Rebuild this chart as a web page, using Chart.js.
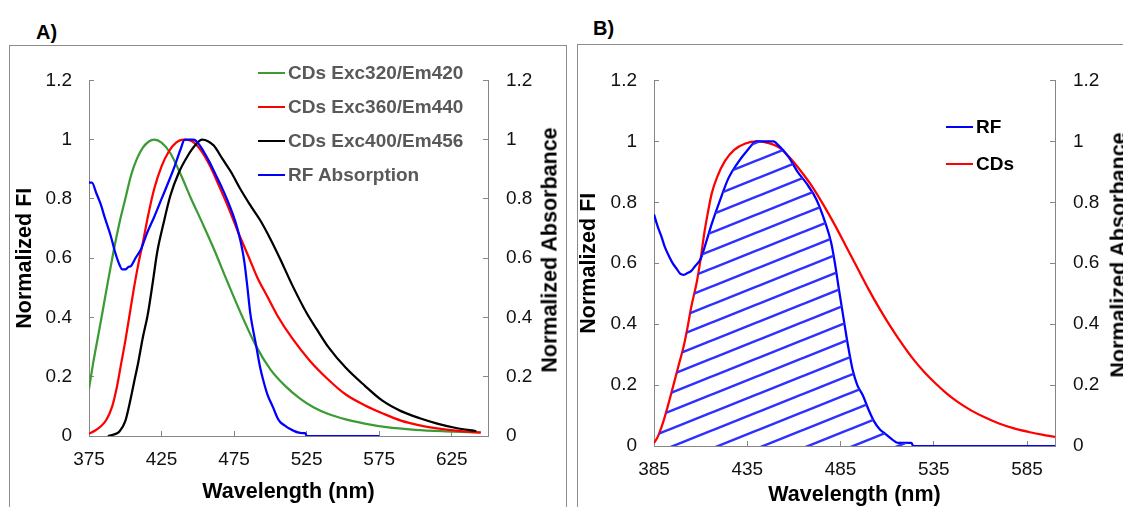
<!DOCTYPE html>
<html>
<head>
<meta charset="utf-8">
<script src="https://cdn.jsdelivr.net/npm/chart.js@4.4.1/dist/chart.umd.min.js"></script>
<style>
  body { margin: 0; width: 1123px; height: 507px; overflow: hidden; background: #fff; position: relative; font-family: "Liberation Sans", Arial, sans-serif; }
  .frame { position: absolute; border: 1px solid #8c8c8c; box-sizing: border-box; }
  .tag { position: absolute; font-weight: bold; font-size: 20px; line-height: 20px; color: #000; }
  canvas { position: absolute; }
  .legend { position: absolute; top: 0; font-weight: bold; font-size: 19px; }
  .legend .row { position: absolute; left: 0; height: 22px; white-space: nowrap; display: flex; align-items: center; }
  .legend .swatch { width: 27px; height: 2.5px; margin-right: 3px; }
  .rtitle { position: absolute; font-weight: bold; font-size: 21.5px; white-space: nowrap; color: #000; transform: translate(-50%, -50%) rotate(-90deg); }
</style>
</head>
<body>
<div class="frame" style="left:9px; top:45px; width:558px; height:500px;"></div>
<div class="frame" style="left:577px; top:44px; width:600px; height:500px;"></div>
<div class="tag" style="left:36px; top:22px;">A)</div>
<div class="tag" style="left:593px; top:18px;">B)</div>

<canvas id="chartA" width="556" height="461" style="left:10px; top:46px;"></canvas>
<canvas id="chartB" width="557" height="461" style="left:578px; top:46px;"></canvas>

<div class="legend" id="legendA" style="left:258px;"></div>
<div class="legend" id="legendB" style="left:946px;"></div>
<div class="rtitle" style="left:550px; top:250px;">Normalized Absorbance</div>
<div class="rtitle" style="left:1119px; top:255px;">Normalized Absorbance</div>

<script>
const FONT = '"Liberation Sans", Arial, sans-serif';
const AXIS = '#868686';
const TEXT = '#111';

// tick labels
const xTicksA = [375, 425, 475, 525, 575, 625];
const xTicksB = [385, 435, 485, 535, 585];
const yTicks = [0, 0.2, 0.4, 0.6, 0.8, 1, 1.2];

// A) CDs emission at three excitations, RF absorption
const em420Nm = [375, 378, 381, 384, 388, 392, 396, 400, 404, 408, 412, 416, 420, 425, 431, 438, 445, 453, 461, 470, 480, 490, 500, 510, 520, 530, 540, 552, 565, 580, 600, 620, 645];
const em420 = [0.16, 0.25, 0.33, 0.41, 0.52, 0.625, 0.72, 0.80, 0.88, 0.935, 0.972, 0.993, 1.0, 0.99, 0.955, 0.885, 0.805, 0.72, 0.632, 0.525, 0.41, 0.305, 0.225, 0.17, 0.128, 0.096, 0.074, 0.056, 0.042, 0.03, 0.021, 0.016, 0.012];

const em440Nm = [375, 379, 383, 387, 391, 394, 397, 400, 403, 406, 409, 412, 416, 420, 425, 430, 435, 440, 446, 452, 458, 465, 472, 478, 485, 491, 498, 505, 515, 527, 540, 552, 565, 578, 590, 603, 615, 628, 645];
const em440 = [0.008, 0.018, 0.032, 0.055, 0.1, 0.16, 0.24, 0.32, 0.41, 0.5, 0.58, 0.65, 0.75, 0.835, 0.91, 0.96, 0.99, 1.0, 0.995, 0.965, 0.915, 0.84, 0.76, 0.685, 0.605, 0.535, 0.47, 0.405, 0.33, 0.255, 0.19, 0.14, 0.104, 0.075, 0.052, 0.036, 0.026, 0.018, 0.011];

const em456Nm = [388, 392, 396, 400, 403, 406, 409, 412, 415.5, 419, 422, 426, 431, 437, 443, 448, 453, 457, 461, 467, 473, 479, 486, 493, 500, 507, 515, 525, 532, 540, 552, 565, 577, 590, 603, 615, 628, 642];
const em456 = [0, 0.005, 0.015, 0.05, 0.11, 0.18, 0.25, 0.33, 0.41, 0.52, 0.62, 0.71, 0.81, 0.89, 0.945, 0.98, 1.0, 0.995, 0.98, 0.935, 0.89, 0.836, 0.78, 0.728, 0.665, 0.595, 0.51, 0.415, 0.36, 0.3, 0.23, 0.17, 0.12, 0.084, 0.06, 0.042, 0.027, 0.016];

const rfNmA = [375, 377, 380, 383, 386, 390, 393, 396, 398, 400, 402, 404, 407, 411, 415, 420, 425, 429, 434, 438, 441, 447, 450, 454, 458, 462, 466, 470, 474, 477, 480, 482, 484, 486, 488, 490, 493, 495, 498, 502, 505, 507, 510, 513, 516, 519, 522, 524, 525, 575];
const rfAbsA = [0.855, 0.855, 0.82, 0.783, 0.735, 0.675, 0.62, 0.578, 0.562, 0.562, 0.57, 0.574, 0.6, 0.632, 0.685, 0.74, 0.8, 0.848, 0.91, 0.966, 1.0, 1.0, 0.99, 0.96, 0.925, 0.885, 0.845, 0.8, 0.75, 0.705, 0.645, 0.59, 0.51, 0.42, 0.36, 0.31, 0.23, 0.19, 0.14, 0.095, 0.06, 0.046, 0.035, 0.025, 0.018, 0.012, 0.01, 0.01, 0, 0];

// B) RF absorption vs CDs emission overlap
const rfNmB = [385, 387, 389, 391, 393, 395, 397, 399, 401, 403, 405, 407, 410, 413, 416, 420, 425, 430, 435, 440, 449, 452, 457, 462, 467, 472, 477, 480, 482, 484, 487, 489, 491.5, 494, 497, 500, 503, 506, 509, 511, 513, 516, 520, 523, 524, 600];
const rfAbsB = [0.76, 0.72, 0.687, 0.65, 0.624, 0.6, 0.583, 0.566, 0.562, 0.568, 0.575, 0.59, 0.614, 0.67, 0.73, 0.8, 0.88, 0.93, 0.97, 1.0, 1.0, 0.985, 0.95, 0.9, 0.86, 0.81, 0.73, 0.667, 0.6, 0.52, 0.405, 0.33, 0.25, 0.2, 0.166, 0.12, 0.081, 0.055, 0.04, 0.03, 0.02, 0.01, 0.01, 0.01, 0, 0];

const cdsNm = [385, 387, 390, 393, 395, 398, 401, 403, 405, 408, 410, 412, 414, 416, 419, 423, 428, 434, 440, 446, 452, 458, 464, 470, 476, 482, 488, 494, 500, 506, 512, 518, 524, 530, 536, 542, 548, 555, 562, 570, 578, 586, 593, 600];
const cdsFI = [0.01, 0.03, 0.08, 0.144, 0.19, 0.26, 0.33, 0.39, 0.457, 0.54, 0.614, 0.7, 0.77, 0.83, 0.885, 0.935, 0.972, 0.993, 1.0, 0.995, 0.98, 0.945, 0.9, 0.85, 0.79, 0.725, 0.655, 0.585, 0.515, 0.45, 0.39, 0.335, 0.285, 0.242, 0.205, 0.172, 0.144, 0.117, 0.095, 0.074, 0.058, 0.046, 0.037, 0.03];

const pts = (xs, ys) => xs.map((x, i) => ({ x: x, y: ys[i] }));

const line = (label, color, data, axis, order) => ({
  label: label,
  data: data,
  yAxisID: axis,
  borderColor: color,
  borderWidth: 2.25,
  pointRadius: 0,
  cubicInterpolationMode: 'monotone',
  fill: false,
  order: order
});

// fixed axis boxes so the plot area sits where it should
function scales(xMin, xMax, xTicks, box) {
  const tickFont = { family: FONT, size: 19 };
  const titleFont = { family: FONT, size: 21.5, weight: 'bold', lineHeight: 1 };
  const grid = { drawOnChartArea: false, color: AXIS, tickLength: -5, lineWidth: 1 };
  const border = { color: AXIS, width: 1 };
  const useTicks = list => scale => { scale.ticks = list.map(v => ({ value: v })); };
  return {
    x: {
      type: 'linear', min: xMin, max: xMax,
      afterBuildTicks: useTicks(xTicks),
      afterFit: s => { s.height = box.bottom; },
      ticks: { font: tickFont, color: TEXT, padding: 17, autoSkip: false, maxRotation: 0, callback: v => String(v) },
      grid: grid, border: border,
      title: { display: true, text: 'Wavelength (nm)', color: '#000', font: titleFont, padding: { top: 0, bottom: box.xTitlePad } }
    },
    y: {
      position: 'left', min: 0, max: 1.2,
      afterBuildTicks: useTicks(yTicks),
      afterFit: s => { s.width = box.left; },
      ticks: { font: tickFont, color: TEXT, padding: 22, callback: v => String(v) },
      grid: grid, border: border,
      title: { display: true, text: 'Normalized FI', color: '#000', font: titleFont, padding: { top: box.yTitlePad, bottom: 0 } }
    },
    y2: {
      position: 'right', min: 0, max: 1.2,
      afterBuildTicks: useTicks(yTicks),
      afterFit: s => { s.width = box.right; },
      ticks: { font: tickFont, color: TEXT, padding: 23, callback: v => String(v) },
      grid: grid, border: border
    }
  };
}

function buildLegend(chart, el, rowsY, textColor) {
  chart.data.datasets.forEach((ds, i) => {
    const row = document.createElement('div');
    row.className = 'row';
    row.style.top = (rowsY[i] - 11) + 'px';
    const swatch = document.createElement('span');
    swatch.className = 'swatch';
    swatch.style.background = ds.borderColor;
    const txt = document.createElement('span');
    txt.textContent = ds.label;
    txt.style.color = textColor;
    row.appendChild(swatch);
    row.appendChild(txt);
    el.appendChild(row);
  });
}

// diagonal hatch tile for the spectral overlap
const tile = document.createElement('canvas');
tile.width = 45;
tile.height = 18;
const tctx = tile.getContext('2d');
tctx.strokeStyle = '#2f2fff';
tctx.lineWidth = 2.5;
[-18, 0, 18].forEach(dy => {
  tctx.beginPath();
  tctx.moveTo(-45, 36 + dy);
  tctx.lineTo(90, -18 + dy);
  tctx.stroke();
});

const overlapHatch = {
  id: 'overlapHatch',
  afterDatasetsDraw(chart) {
    const ctx = chart.ctx;
    const base = chart.scales.y.getPixelForValue(0);
    const rf = chart.getDatasetMeta(0).dataset;
    const cds = chart.getDatasetMeta(1).dataset;
    const outline = el => {
      const p = el.points;
      el.updateControlPoints(chart.chartArea, 'x');
      ctx.beginPath();
      el.path(ctx);
      ctx.lineTo(p[p.length - 1].x, base);
      ctx.lineTo(p[0].x, base);
      ctx.closePath();
    };
    const hatch = ctx.createPattern(tile, 'repeat');
    hatch.setTransform(new DOMMatrix().translate(0, 6));
    ctx.save();
    outline(cds);
    ctx.clip();
    outline(rf);
    ctx.fillStyle = hatch;
    ctx.fill();
    ctx.restore();
  }
};

Chart.defaults.font.family = FONT;

const chartA = new Chart(document.getElementById('chartA'), {
  type: 'line',
  data: {
    datasets: [
      line('CDs Exc320/Em420', '#3d9b35', pts(em420Nm, em420), 'y', 3),
      line('CDs Exc360/Em440', '#ff0000', pts(em440Nm, em440), 'y', 2),
      line('CDs Exc400/Em456', '#000000', pts(em456Nm, em456), 'y', 1),
      line('RF Absorption', '#0000ff', pts(rfNmA, rfAbsA), 'y2', 0)
    ]
  },
  options: {
    responsive: false,
    animation: false,
    layout: { padding: { top: 18, left: 0, right: 0, bottom: 0 } },
    plugins: { legend: { display: false }, tooltip: { enabled: false } },
    scales: scales(375, 650, xTicksA, { left: 79, right: 78, bottom: 71, xTitlePad: 4, yTitlePad: 4 })
  }
});

const chartB = new Chart(document.getElementById('chartB'), {
  type: 'line',
  data: {
    datasets: [
      line('RF', '#0000ff', pts(rfNmB, rfAbsB), 'y2', 0),
      line('CDs', '#ff0000', pts(cdsNm, cdsFI), 'y', 1)
    ]
  },
  options: {
    responsive: false,
    animation: false,
    layout: { padding: { top: 17, left: 0, right: 0, bottom: 0 } },
    plugins: { legend: { display: false }, tooltip: { enabled: false } },
    scales: scales(385, 600, xTicksB, { left: 76, right: 80, bottom: 61, xTitlePad: 1, yTitlePad: 0 })
  },
  plugins: [overlapHatch]
});

buildLegend(chartA, document.getElementById('legendA'), [73, 107, 141, 175], '#595959');
buildLegend(chartB, document.getElementById('legendB'), [127, 164], '#000');
</script>
</body>
</html>
